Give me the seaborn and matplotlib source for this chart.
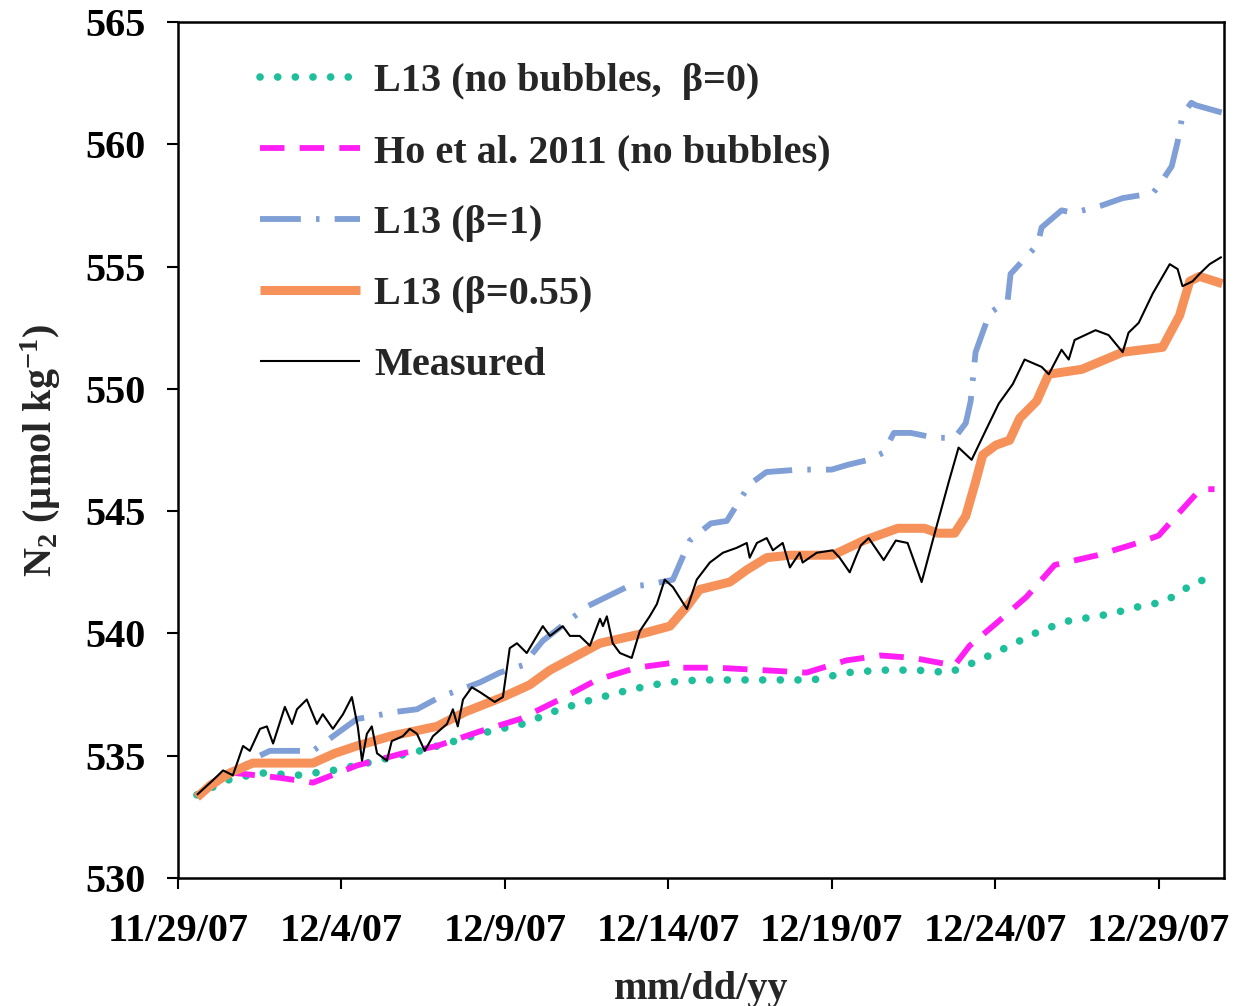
import numpy as np
import pandas as pd
import matplotlib
matplotlib.use("Agg")
import matplotlib.pyplot as plt
import seaborn as sns

# Time axis origin; all series times are fractional days after it
start_date = "2007-11-29"

# L13 model without bubbles (beta = 0)
l13_b0_days = [0.58, 1.50, 2.51, 3.64, 4.74, 5.78, 7.40, 8.47, 9.54, 10.55, 11.68, 12.69,
               13.82, 14.95, 15.96, 17.09, 18.32, 19.42, 20.49, 21.5, 22.6, 23.6, 24.5,
               25.3, 26.36, 27.2, 28.53, 29.4, 30.18, 30.67, 31.13, 31.71]
l13_b0_vals = [533.4, 534.0, 534.3, 534.2, 534.4, 534.7, 535.2, 535.6, 536.0, 536.3, 536.9, 537.3,
               537.7, 538.0, 538.1, 538.1, 538.1, 538.1, 538.4, 538.5, 538.5, 538.4, 538.9,
               539.4, 540.1, 540.5, 540.8, 541.1, 541.3, 541.7, 542.1, 542.3]

# Ho et al. 2011 parameterisation, no bubbles
ho_days = [0.58, 1.7, 3.11, 4.13, 5.47, 6.88, 7.92, 9.24, 10.46, 11.68, 12.81, 14.03, 15.14,
           15.45, 16.48, 17.89, 19.23, 20.45, 21.5, 22.5, 23.3, 23.76, 24.22, 25.02, 25.96,
           26.82, 28.13, 29.36, 30.0, 30.40, 31.28, 31.71]
ho_vals = [533.4, 534.3, 534.1, 533.9, 534.6, 535.1, 535.4, 536.0, 536.5, 537.3, 538.1, 538.6, 538.8,
           538.6, 538.6, 538.5, 538.4, 538.9, 539.1, 539.0, 538.8, 538.7, 539.5, 540.4, 541.5,
           542.8, 543.2, 543.7, 544.0, 544.6, 545.9, 545.9]

# L13 model with full bubble flux (beta = 1)
l13_b1_days = [0.58, 1.2, 1.8, 2.5, 2.81, 4.13, 5.47, 6.70, 7.31, 8.01, 9.24, 9.85, 10.55, 11.16,
               12.51, 13.73, 14.43, 15.14, 15.66, 16.3, 16.79, 17.49, 18.0, 19.0, 20.0, 20.5,
               21.13, 21.59, 21.9, 22.42, 23.15, 23.76, 24.1, 24.25, 24.40, 24.83, 25.38, 25.47,
               26.30, 26.42, 27.03, 27.4, 28.26, 28.9, 29.82, 30.0, 30.40, 30.58, 30.73, 31.0,
               31.13, 31.93]
l13_b1_vals = [533.4, 534.0, 534.4, 535.0, 535.2, 535.2, 536.5, 536.8, 536.9, 537.4, 538.0, 538.4,
               538.7, 539.7, 541.1, 541.9, 542.0, 542.2, 543.8, 544.5, 544.6, 546.1, 546.6, 546.7,
               546.7, 546.9, 547.1, 547.4, 548.2, 548.2, 548.0, 548.0, 548.6, 549.5, 551.5, 553.1,
               553.6, 554.7, 555.9, 556.6, 557.3, 557.2, 557.5, 557.8, 558.0, 558.3, 559.1, 560.1,
               561.2, 561.7, 561.6, 561.3]

# L13 model with beta = 0.55
l13_b055_days = [0.58, 1.0, 1.59, 2.29, 3.0, 4.13, 4.8, 5.47, 6.5, 7.92, 8.8, 9.94, 10.76, 11.38,
                 12.91, 14.22, 15.05, 15.57, 15.96, 16.88, 17.40, 18.01, 18.72, 20.03, 20.98,
                 22.02, 22.84, 23.24, 23.76, 24.10, 24.40, 24.62, 25.02, 25.44, 25.75, 26.27,
                 26.57, 26.64, 27.65, 28.90, 30.12, 30.64, 30.95, 31.25, 31.95]
l13_b055_vals = [533.3, 533.8, 534.3, 534.7, 534.7, 534.7, 535.1, 535.4, 535.8, 536.2, 536.8, 537.4,
                 537.9, 538.5, 539.6, 540.0, 540.3, 541.1, 541.8, 542.1, 542.6, 543.1, 543.2,
                 543.2, 543.8, 544.3, 544.3, 544.1, 544.1, 544.8, 546.2, 547.3, 547.7, 547.9,
                 548.8, 549.5, 550.4, 550.6, 550.8, 551.5, 551.7, 553.0, 554.4, 554.6, 554.3]

# Measured dissolved N2
meas_days = [0.58, 1.07, 1.38, 1.68, 1.99, 2.20, 2.51, 2.72, 2.91, 3.27, 3.49, 3.64, 3.94, 4.25,
             4.43, 4.74, 5.05, 5.32, 5.50, 5.63, 5.78, 5.93, 6.09, 6.39, 6.54, 6.88, 7.09, 7.31,
             7.55, 7.80, 8.23, 8.41, 8.56, 8.72, 8.99, 9.24, 9.69, 9.94, 10.15, 10.37, 10.67,
             11.16, 11.38, 11.77, 11.99, 12.29, 12.60, 12.91, 13.00, 13.12, 13.30, 13.52, 13.88,
             14.13, 14.43, 14.65, 14.89, 15.14, 15.57, 15.87, 16.27, 16.67, 17.09, 17.40, 17.49,
             17.71, 18.01, 18.20, 18.50, 18.72, 19.02, 19.11, 19.54, 20.03, 20.24, 20.55, 20.76,
             20.89, 21.13, 21.59, 21.96, 22.32, 22.75, 23.15, 23.58, 23.88, 24.28, 24.71, 25.11,
             25.54, 25.90, 26.42, 26.64, 27.03, 27.25, 27.43, 28.07, 28.47, 28.90, 29.08, 29.39,
             29.82, 30.34, 30.58, 30.73, 31.04, 31.25, 31.56, 31.93]
meas_vals = [533.4, 534.0, 534.4, 534.2, 535.4, 535.2, 536.1, 536.2, 535.5, 537.0, 536.3, 536.9,
             537.3, 536.3, 536.7, 536.1, 536.7, 537.4, 536.2, 534.8, 535.9, 536.2, 535.1, 534.8,
             535.6, 535.8, 536.1, 535.9, 535.2, 535.8, 536.3, 536.9, 536.2, 537.3, 537.8, 537.6,
             537.2, 537.4, 539.4, 539.6, 539.2, 540.3, 539.9, 540.3, 539.9, 539.9, 539.5, 540.6,
             540.3, 540.7, 539.6, 539.2, 539.0, 540.1, 540.7, 541.2, 542.2, 541.9, 541.0, 542.2,
             542.9, 543.3, 543.5, 543.7, 543.1, 543.7, 543.9, 543.4, 543.7, 542.7, 543.3, 542.9,
             543.3, 543.4, 543.1, 542.5, 543.2, 543.6, 543.9, 543.0, 543.8, 543.7, 542.1, 544.1,
             546.2, 547.6, 547.1, 548.3, 549.4, 550.2, 551.2, 550.9, 550.6, 551.6, 551.2, 552.0,
             552.4, 552.2, 551.5, 552.3, 552.7, 553.9, 555.1, 554.9, 554.2, 554.4, 554.7, 555.1,
             555.4]

series_labels = ["L13 (no bubbles,  \u03b2=0)", "Ho et al. 2011 (no bubbles)",
                 "L13 (\u03b2=1)", "L13 (\u03b2=0.55)", "Measured"]
tick_dates = ["2007-11-29", "2007-12-04", "2007-12-09", "2007-12-14",
              "2007-12-19", "2007-12-24", "2007-12-29"]
y_ticks = [530, 535, 540, 545, 550, 555, 560, 565]

sns.set_style("ticks")
plt.rcParams["font.family"] = ["Liberation Serif", "DejaVu Serif"]
plt.rcParams["font.weight"] = "bold"
plt.rcParams["mathtext.fontset"] = "custom"
plt.rcParams["mathtext.rm"] = "Liberation Serif:bold"
plt.rcParams["mathtext.it"] = "Liberation Serif:bold:italic"
plt.rcParams["mathtext.bf"] = "Liberation Serif:bold"

t0 = pd.Timestamp(start_date)


def to_frame(days, vals):
    return pd.DataFrame({"time": t0 + pd.to_timedelta(days, unit="D"), "n2": vals})


fig = plt.figure(figsize=(12.35, 10.06), dpi=100)
ax = fig.add_axes([0.1441, 0.1272, 0.8470, 0.8509])

styles = [
    dict(data=to_frame(l13_b0_days, l13_b0_vals), color="#1fbf9c", lw=5.5,
         ls=(0, (0.01, 2.3)), cap="round"),
    dict(data=to_frame(ho_days, ho_vals), color="#ff1ff5", lw=4.2,
         ls=(0, (4.2, 2.6)), cap="butt"),
    dict(data=to_frame(l13_b1_days, l13_b1_vals), color="#7f9fd6", lw=4.2,
         ls=(0, (7.0, 2.6, 0.6, 2.6)), cap="butt"),
    dict(data=to_frame(l13_b055_days, l13_b055_vals), color="#f7915a", lw=6.5,
         ls="-", cap="butt"),
    dict(data=to_frame(meas_days, meas_vals), color="black", lw=1.5,
         ls="-", cap="butt"),
]

for st, lab in zip(styles, series_labels):
    sns.lineplot(data=st["data"], x="time", y="n2", ax=ax, color=st["color"],
                 linewidth=st["lw"], linestyle=st["ls"], label=lab,
                 dash_capstyle=st["cap"], solid_capstyle="butt")

ax.set_xlim(t0, t0 + pd.Timedelta(days=32))
ax.set_ylim(530, 565)
ax.set_yticks(y_ticks)
ticks = pd.to_datetime(tick_dates)
ax.set_xticks(ticks)
ax.set_xticklabels([f"{d.month}/{d.day}/{d.strftime('%y')}" for d in ticks])

for side in ["top", "right", "left", "bottom"]:
    ax.spines[side].set_visible(True)
    ax.spines[side].set_linewidth(1.8)
    ax.spines[side].set_color("black")
ax.tick_params(axis="both", direction="out", length=8, width=1.5, labelsize=29,
               colors="black")
ax.tick_params(axis="y", pad=15)
ax.tick_params(axis="x", pad=17)
for lbl in ax.get_xticklabels() + ax.get_yticklabels():
    lbl.set_fontweight("bold")

ax.set_xlabel("mm/dd/yy", fontsize=29, fontweight="bold", labelpad=15)
ax.set_ylabel("N$_\\mathrm{2}$ (\u00b5mol kg$^{\\mathrm{-1}}$)", fontsize=29,
              fontweight="bold", labelpad=16)

leg = ax.legend(loc="upper left", bbox_to_anchor=(0.078, 0.952), frameon=False,
                fontsize=29, handlelength=2.5, handletextpad=0.35, labelspacing=0.84,
                borderpad=0, borderaxespad=0, prop={"weight": "bold", "size": 29})

fig.savefig("out.png", dpi=100)
